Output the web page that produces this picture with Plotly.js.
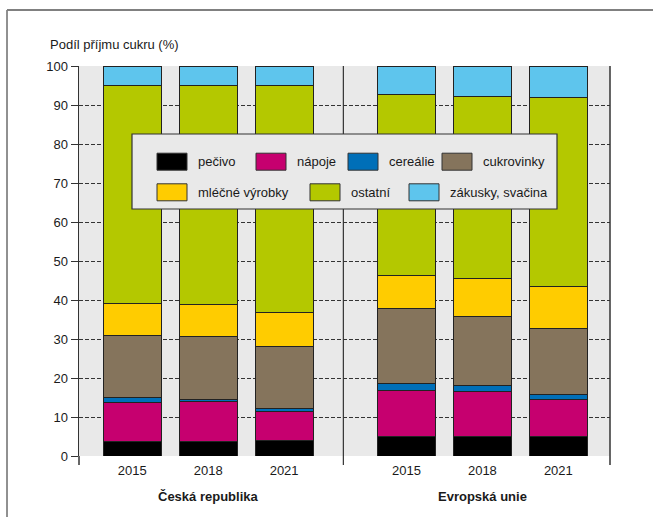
<!DOCTYPE html>
<html>
<head>
<meta charset="utf-8">
<script src="https://cdn.plot.ly/plotly-3.0.1.min.js"></script>
<style>html,body{margin:0;padding:0;background:#fff;}#chart{width:653px;height:517px;}</style>
</head>
<body>
<div id="chart"></div>
<script>
// ---- data ----
const groups = ["Česká republika", "Evropská unie"];
const years = ["2015", "2018", "2021"];
const seriesNames = ["pečivo", "nápoje", "cereálie", "cukrovinky", "mléčné výrobky", "ostatní", "zákusky, svačina"];
const seriesColors = ["#000000", "#c6006f", "#006fb8", "#85745c", "#ffcc00", "#b4c800", "#5ec5ed"];
// values per series: [CR 2015, CR 2018, CR 2021, EU 2015, EU 2018, EU 2021]
const pecivo     = [3.7, 3.7, 3.9, 5.0, 4.9, 5.0];
const napoje     = [10.0, 10.2, 7.6, 11.8, 11.6, 9.5];
const cerealie   = [1.3, 0.6, 0.7, 1.8, 1.6, 1.3];
const cukrovinky = [15.8, 16.1, 16.0, 19.3, 17.7, 16.9];
const mlecne     = [8.4, 8.2, 8.6, 8.5, 9.8, 10.8];
const ostatni    = [55.8, 56.2, 58.1, 46.3, 46.6, 48.3];
const zakusky    = [5.0, 5.0, 5.1, 7.3, 7.8, 8.2];
const seriesValues = [pecivo, napoje, cerealie, cukrovinky, mlecne, ostatni, zakusky];

// ---- layout helpers ----
const groupShift = 3.61;          // distance between first bars of the groups (axis units)
const xPos = [];
const xText = [];
groups.forEach((g, gi) => years.forEach((y, yi) => { xPos.push(gi * groupShift + yi); xText.push(y); }));
const separatorX = 2.78;

const M = {l: 79, r: 43, t: 66, b: 61};
const W = 653, H = 517;
const pw = W - M.l - M.r, ph = H - M.t - M.b;
const px2x = px => (px - M.l) / pw;
const px2y = py => (H - M.b - py) / ph;

const font = "Liberation Sans, Arial, Helvetica, sans-serif";
const txt = "#1a1a1a";

const traces = seriesNames.map((name, i) => ({
  type: "bar",
  name: name,
  x: xPos,
  y: seriesValues[i],
  width: 0.763,
  marker: {color: seriesColors[i], line: {color: "#222", width: 1}},
  showlegend: false,
  hoverinfo: "name+y"
}));

const shapes = [];
const annotations = [];

// separator between groups and right border, extended below axis
shapes.push({type: "line", xref: "x", yref: "paper", x0: separatorX, x1: separatorX, y0: px2y(465), y1: 1, line: {color: "#333", width: 1.2}});
shapes.push({type: "line", xref: "paper", yref: "paper", x0: 1, x1: 1, y0: px2y(465), y1: 1, line: {color: "#333", width: 1.5}});
shapes.push({type: "line", xref: "paper", yref: "paper", x0: 0, x1: 0, y0: px2y(465), y1: 0, line: {color: "#333", width: 1.5}});
// outer frame (left and top)
shapes.push({type: "line", xref: "paper", yref: "paper", x0: px2x(7), x1: px2x(7), y0: px2y(517), y1: px2y(10), line: {color: "#222", width: 1}});
shapes.push({type: "line", xref: "paper", yref: "paper", x0: px2x(7), x1: px2x(653), y0: px2y(10), y1: px2y(10), line: {color: "#808080", width: 2}});

// legend box
shapes.push({type: "rect", xref: "paper", yref: "paper", x0: px2x(132), x1: px2x(557), y0: px2y(209), y1: px2y(134),
  fillcolor: "#e9e9e9", line: {color: "#333", width: 1.2}, layer: "above"});
const legendIconX = [157, 256, 348, 442, 157, 310, 409];
const legendRowY = [161.7, 161.7, 161.7, 161.7, 192.3, 192.3, 192.3];
seriesNames.forEach((name, i) => {
  const x0 = legendIconX[i], cy = legendRowY[i];
  shapes.push({type: "rect", xref: "paper", yref: "paper", x0: px2x(x0), x1: px2x(x0 + 30), y0: px2y(cy + 8.5), y1: px2y(cy - 8.5),
    fillcolor: seriesColors[i], line: {color: "#333", width: 1}, layer: "above"});
  annotations.push({xref: "paper", yref: "paper", x: px2x(x0 + 39), y: px2y(cy), xanchor: "left", yanchor: "middle",
    text: name, showarrow: false, font: {family: font, size: 13, color: txt}});
});

// axis title (top-left)
annotations.push({xref: "paper", yref: "paper", x: px2x(48), y: px2y(45), xanchor: "left", yanchor: "middle",
  text: "Podíl příjmu cukru (%)", showarrow: false, font: {family: font, size: 13, color: txt}});
// group labels
groups.forEach((g, gi) => {
  annotations.push({xref: "x", yref: "paper", x: gi * groupShift + 1, y: px2y(496.5), xanchor: "center", yanchor: "middle",
    text: "<b>" + g + "</b>", showarrow: false, font: {family: font, size: 13, color: txt}});
});

const layout = {
  width: W, height: H,
  margin: M,
  barmode: "stack",
  paper_bgcolor: "#ffffff",
  plot_bgcolor: "#e9e9e9",
  font: {family: font, size: 13, color: txt},
  showlegend: false,
  xaxis: {
    range: [-0.70, 6.29], tickvals: xPos, ticktext: xText, ticks: "", showgrid: false, zeroline: false,
    showline: false, tickfont: {family: font, size: 13, color: txt}, ticklabelstandoff: 5, fixedrange: true
  },
  yaxis: {
    range: [0, 100], dtick: 10, tick0: 0, ticks: "outside", ticklen: 7, tickcolor: "#333", tickwidth: 1,
    showline: true, linecolor: "#333", linewidth: 1.5,
    showgrid: true, gridcolor: "#333", gridwidth: 1, griddash: "4px,2px", zeroline: false,
    tickfont: {family: font, size: 13, color: txt}, fixedrange: true
  },
  shapes: shapes,
  annotations: annotations
};

Plotly.newPlot("chart", traces, layout, {staticPlot: true, displayModeBar: false});
</script>
</body>
</html>
